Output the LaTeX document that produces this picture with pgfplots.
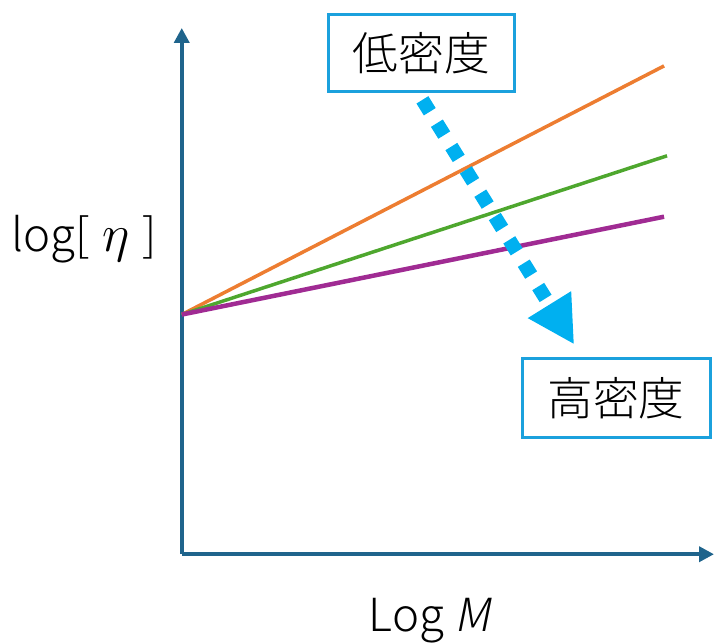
\documentclass[border=0pt]{standalone}
\usepackage{fontspec}
\setmainfont{Noto Sans CJK JP Light}
\newfontfamily\slfont[FakeSlant=0.2]{Noto Sans CJK JP Light}
\usepackage{pgfplots}
\pgfplotsset{compat=1.18}
\usetikzlibrary{arrows.meta}

\definecolor{axisblue}{RGB}{31,100,140}
\definecolor{boxblue}{RGB}{27,161,221}
\definecolor{arrowcyan}{RGB}{0,176,240}
\definecolor{lnorange}{RGB}{237,125,49}
\definecolor{lngreen}{RGB}{78,167,46}
\definecolor{lnpurple}{RGB}{160,43,147}

\begin{document}
\begin{tikzpicture}
\begin{axis}[
  scale only axis,
  width=10.66cm, height=10.54cm,
  xmin=182, xmax=715,
  ymin=84, ymax=611,
  axis lines=left,
  axis line style={axisblue, line width=0.08cm, -{Triangle[length=0.3cm, width=0.3cm]}},
  xtick=\empty, ytick=\empty,
  clip=false,
]
% invisible frame: the whole picture in pixel units
\path (axis cs:0,0) rectangle (axis cs:716,639);

% three lines from a common origin
\addplot[lnorange, line width=0.07cm] coordinates {(182,324) (665,573)};
\addplot[lngreen, line width=0.07cm] coordinates {(182,324) (668,483)};
\addplot[lnpurple, line width=0.09cm] coordinates {(182,324) (665,422)};

% dashed arrow low -> high density
\draw[arrowcyan, line width=0.28cm, dash pattern=on 0.28cm off 0.27cm,
  -{Triangle[length=0.94cm, width=0.95cm]}]
  (axis cs:423,539) -- (axis cs:575,294);

\node[draw=boxblue, line width=0.06cm, minimum width=3.72cm, minimum height=1.54cm,
  inner sep=0pt, font=\fontsize{26}{30}\selectfont, fill=white]
  at (axis cs:422,585.5) {低密度};
\node[draw=boxblue, line width=0.06cm, minimum width=3.76cm, minimum height=1.58cm,
  inner sep=0pt, font=\fontsize{26}{30}\selectfont, fill=white]
  at (axis cs:617,240.5) {高密度};

\node[anchor=base, font=\fontsize{26}{30}\selectfont, inner sep=0pt]
  at (axis cs:84,387) {log[\;\scalebox{1.2}{$\eta$}\;]};
\node[anchor=base, font=\fontsize{26}{30}\selectfont, inner sep=0pt]
  at (axis cs:430,7) {Log {\slfont M}};
\end{axis}
\end{tikzpicture}
\end{document}
